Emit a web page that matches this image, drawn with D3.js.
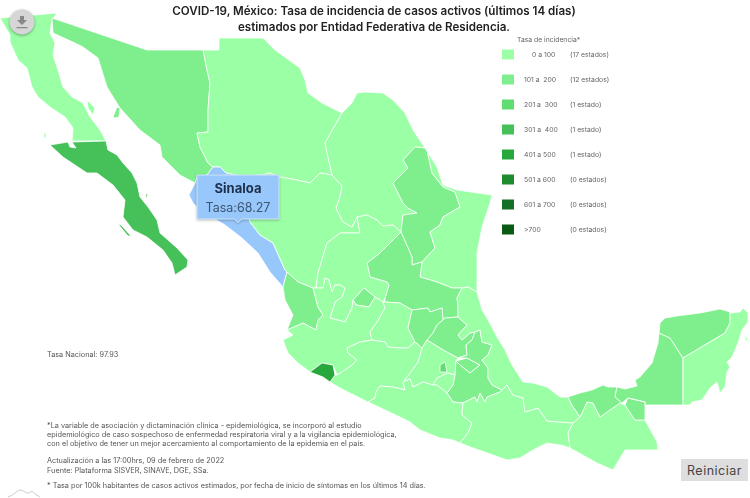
<!DOCTYPE html>
<html lang="es">
<head>
<meta charset="utf-8">
<title>COVID-19, México</title>
<script src="https://cdn.jsdelivr.net/npm/d3@7"></script>
<style>
  html, body { margin: 0; padding: 0; background: #fff; }
  svg { display: block; font-family: Inter, "Open Sans", sans-serif; filter: blur(0.35px); }
</style>
</head>
<body>
<svg id="chart" width="750" height="498"></svg>
<script>
// Rates: only Sinaloa and the national rate are readable, the rest are estimated from each state's colour band
const stateNames = ["Baja California", "Baja California Sur", "Sonora", "Chihuahua", "Sinaloa", "Durango", "Coahuila", "Nuevo León",
  "Tamaulipas", "San Luis Potosí", "Zacatecas", "Aguascalientes", "Nayarit", "Jalisco", "Guanajuato", "Querétaro",
  "Hidalgo", "México", "Ciudad de México", "Tlaxcala", "Puebla", "Morelos", "Michoacán", "Colima",
  "Guerrero", "Oaxaca", "Veracruz", "Chiapas", "Tabasco", "Campeche", "Yucatán", "Quintana Roo"];
const stateRates = [85, 352, 165, 72, 68.27, 60, 78, 148,
  70, 130, 88, 175, 120, 92, 66, 170,
  140, 55, 260, 125, 118, 90, 50, 440,
  75, 45, 40, 15, 135, 110, 150, 95];

const stateRings = [
  [[[0,18],[57,13],[52,20],[50,33],[55,43],[53,55],[58,70],[63,87],[72,97],[83,103],[90,117],[100,130],[106,141],[72,141],[73,128],[65,117],[50,107],[38,97],[32,87],[27,68],[18,60],[10,42],[10,35]],
   [[87,100],[95,108],[93,115],[88,108]], [[44,132],[46,134],[46,138],[44,138]]],
  [[[50,145],[68,142],[70,147],[76,148],[72,142],[106,141],[108,150],[117,155],[123,163],[132,173],[137,183],[140,197],[148,207],[157,220],[160,233],[168,240],[177,248],[188,260],[187,267],[175,275],[172,263],[163,250],[147,237],[133,230],[123,217],[125,200],[113,185],[97,173],[87,173],[72,163],[63,157]],
   [[118,224],[121,225],[131,236],[128,236]], [[146,193],[148,195],[146,198]]],
  [[[52,18],[147,50],[203,50],[207,70],[210,83],[208,110],[208,132],[197,133],[200,147],[208,163],[213,167],[207,175],[197,177],[195,183],[180,175],[162,157],[160,145],[140,130],[120,108],[107,87],[98,58],[83,47],[75,43],[53,33]],
   [[113,117],[117,107],[120,108],[119,117],[115,118]]],
  [[[203,50],[219,50],[219,38],[263,38],[275,50],[300,68],[305,80],[308,93],[322,103],[342,113],[325,143],[332,175],[320,173],[310,183],[297,180],[280,177],[270,173],[262,175],[240,176],[226,173],[220,167],[213,167],[208,163],[200,147],[197,133],[208,132],[208,110],[210,83],[207,70]]],
  [[[195,183],[197,177],[207,175],[213,167],[220,167],[226,173],[240,176],[245,200],[250,222],[260,235],[273,243],[285,270],[287,272],[283,287],[270,272],[258,253],[242,238],[225,225],[200,210],[193,203],[189,195]]],
  [[[240,176],[262,175],[270,173],[280,177],[297,180],[310,183],[320,173],[332,175],[342,186],[340,197],[336,208],[343,222],[352,227],[357,217],[360,233],[340,233],[327,243],[318,273],[316,288],[313,288],[298,282],[287,272],[285,270],[273,243],[260,235],[250,222],[245,200]]],
  [[[342,113],[352,103],[357,93],[365,92],[383,93],[393,100],[405,113],[413,130],[425,148],[415,147],[403,160],[408,168],[393,183],[403,203],[408,208],[417,213],[403,215],[401,232],[393,225],[383,226],[377,220],[367,215],[357,217],[352,227],[343,222],[336,208],[340,197],[342,186],[332,175],[325,143]]],
  [[[415,147],[425,148],[427,150],[432,173],[443,187],[455,192],[460,207],[443,217],[440,225],[430,232],[435,248],[422,262],[412,265],[412,257],[401,232],[403,215],[417,213],[408,208],[403,203],[393,183],[408,168],[403,160]]],
  [[[425,148],[437,167],[443,185],[457,190],[492,195],[490,203],[482,227],[477,253],[477,280],[477,292],[468,287],[462,288],[452,288],[437,282],[420,277],[422,262],[435,248],[430,232],[440,225],[443,217],[460,207],[455,192],[443,187],[432,173],[427,150]]],
  [[[401,232],[412,257],[412,265],[422,262],[420,277],[437,282],[452,288],[462,288],[457,298],[458,307],[458,317],[445,318],[443,320],[442,308],[430,312],[428,308],[412,310],[400,303],[385,302],[385,298],[389,285],[387,282],[370,277],[367,263],[380,253]]],
  [[[316,288],[318,273],[327,243],[340,233],[360,233],[357,217],[367,215],[377,220],[383,226],[393,225],[401,232],[380,253],[367,263],[370,277],[387,282],[389,285],[385,298],[383,302],[375,297],[364,288],[353,300],[352,308],[345,322],[330,318],[335,302],[342,297],[345,288],[340,285],[335,285],[332,292],[329,280],[325,278],[323,288]]],
  [[[353,300],[364,288],[375,297],[369,307],[356,305]]],
  [[[283,287],[287,272],[298,282],[313,288],[318,307],[323,315],[318,320],[316,330],[303,323],[287,330],[293,315],[285,300]]],
  [[[283,340],[293,335],[287,330],[303,323],[316,330],[318,320],[323,315],[318,307],[313,288],[316,288],[323,288],[325,278],[329,280],[332,292],[335,285],[340,285],[345,288],[342,297],[335,302],[330,318],[345,322],[352,308],[353,300],[356,305],[369,307],[375,297],[383,302],[385,308],[377,322],[370,332],[372,340],[360,342],[347,348],[348,353],[357,360],[352,365],[342,372],[337,375],[333,365],[322,363],[310,372],[298,363],[288,353]]],
  [[[383,302],[385,302],[400,303],[412,310],[408,328],[415,342],[408,348],[400,348],[388,347],[385,342],[372,340],[370,332],[377,322],[385,308]]],
  [[[412,310],[428,308],[430,312],[442,308],[443,320],[437,325],[433,333],[427,340],[422,348],[415,342],[408,328]]],
  [[[445,318],[458,317],[467,325],[458,335],[462,340],[470,333],[475,332],[472,340],[466,345],[467,355],[458,358],[443,350],[427,340],[433,333],[437,325],[443,320]]],
  [[[422,348],[427,340],[443,350],[458,358],[456,361],[455,375],[448,373],[437,378],[433,385],[423,382],[413,387],[410,379],[403,382],[410,373],[418,362]]],
  [[[440,365],[445,362],[447,372],[440,372]]],
  [[[456,361],[467,358],[480,365],[470,373],[460,365]]],
  [[[475,332],[480,330],[482,342],[492,345],[488,355],[482,360],[488,368],[488,378],[492,385],[502,390],[500,392],[487,397],[485,402],[480,393],[477,402],[475,397],[463,403],[453,402],[447,393],[453,385],[455,375],[456,361],[460,365],[470,373],[480,365],[467,358],[458,358],[467,355],[466,345],[472,340]]],
  [[[437,378],[448,373],[455,375],[453,385],[447,393],[437,385],[433,385]]],
  [[[347,348],[360,342],[372,340],[385,342],[388,347],[400,348],[408,348],[415,342],[422,348],[418,362],[410,373],[403,382],[405,390],[393,387],[380,386],[376,392],[375,398],[368,402],[350,393],[340,388],[330,382],[335,375],[337,375],[342,372],[352,365],[357,360],[348,353]]],
  [[[310,372],[322,363],[333,365],[335,375],[330,382],[323,377]]],
  [[[368,402],[375,398],[376,392],[380,386],[393,387],[405,390],[403,382],[410,379],[413,387],[423,382],[433,385],[437,385],[447,393],[453,402],[463,403],[462,415],[472,423],[468,433],[460,443],[453,440],[440,438],[420,430],[410,422],[400,417],[385,410]]],
  [[[463,403],[475,397],[477,402],[480,393],[485,402],[487,397],[500,392],[502,390],[507,385],[513,395],[523,398],[525,412],[538,408],[547,421],[573,423],[568,433],[570,448],[561,445],[553,444],[547,443],[533,450],[520,458],[507,460],[493,455],[473,448],[460,443],[468,433],[472,423],[462,415]]],
  [[[462,288],[468,287],[477,292],[482,310],[487,318],[497,337],[505,350],[512,365],[523,382],[533,383],[547,387],[560,397],[568,397],[572,405],[580,417],[573,423],[547,421],[538,408],[525,412],[523,398],[513,395],[507,385],[502,390],[492,385],[488,378],[488,368],[482,360],[488,355],[492,345],[482,342],[480,330],[475,332],[470,333],[462,340],[458,335],[467,325],[458,317],[458,307],[457,298]]],
  [[[573,423],[580,417],[587,402],[593,403],[600,417],[620,403],[625,405],[635,420],[645,420],[657,442],[658,450],[625,450],[613,470],[597,463],[570,448],[568,433]]],
  [[[568,397],[580,393],[592,390],[603,385],[608,387],[617,387],[615,397],[622,403],[620,403],[600,417],[593,403],[587,402],[580,417],[572,405]]],
  [[[659,333],[670,338],[683,358],[683,405],[645,405],[645,402],[628,398],[622,403],[615,397],[617,387],[625,389],[637,386],[635,380],[640,377],[652,363],[658,343]],
   [[628,398],[645,402],[645,420],[635,420],[625,405]]],
  [[[660,323],[665,318],[677,316],[700,313],[720,309],[730,312],[730,323],[725,333],[683,358],[670,338],[659,333]]],
  [[[730,313],[740,312],[743,308],[748,313],[748,322],[742,330],[738,343],[732,357],[727,362],[730,367],[727,372],[725,387],[720,393],[717,382],[710,388],[702,400],[692,402],[690,405],[683,405],[683,358],[725,333],[730,323]],
   [[745,337],[748,338],[746,342]]]
];

const hoveredState = "Sinaloa";
const nationalRate = 97.93;

const bandThresholds = [101, 201, 301, 401, 501, 601, 701];
const bandColors = ["#9bffa6", "#7eef8c", "#60dd70", "#46c058", "#28a83c", "#1e8c2e", "#147024", "#0a5a14"];
const bandLabels = ["0 a 100", "101 a  200", "201 a  300", "301 a  400", "401 a 500", "501 a 600", "601 a 700", ">700"];
const bandCounts = ["(17 estados)", "(12 estados)", "(1 estado)", "(1 estado)", "(1 estado)", "(0 estados)", "(0 estados)", "(0 estados)"];

const titleLines = ["COVID-19, México: Tasa de incidencia de casos activos (últimos 14 días)",
  "estimados por Entidad Federativa de Residencia."];
const noteLines = [
  "*La variable de asociación y dictaminación clínica - epidemiológica, se incorporó al estudio",
  "epidemiológico de caso sospechoso de enfermedad respiratoria viral y a la vigilancia epidemiológica,",
  "con el objetivo de tener un mejor acercamiento al comportamiento de la epidemia en el país."];
const updateLines = ["Actualización a las 17:00hrs, 09 de febrero de 2022", "Fuente: Plataforma SISVER, SINAVE, DGE, SSa."];
const rateNote = "* Tasa por 100k habitantes de casos activos estimados, por fecha de inicio de síntomas en los últimos 14 días.";

const svg = d3.select("#chart");

// the map itself
const features = stateNames.map((name, i) => ({
  type: "Feature",
  properties: { name: name, rate: stateRates[i] },
  geometry: { type: "MultiPolygon", coordinates: stateRings[i].map(ring => [ring.concat([ring[0]])]) }
}));
const projection = d3.geoIdentity().fitExtent([[0, 13], [748, 470]], { type: "FeatureCollection", features: features });
const path = d3.geoPath(projection);
const color = d3.scaleThreshold().domain(bandThresholds).range(bandColors);

svg.append("g").selectAll("path")
  .data(features)
  .enter().append("path")
  .attr("d", path)
  .attr("fill", d => d.properties.name === hoveredState ? "#97c7fb" : color(d.properties.rate))
  .attr("stroke", "#fff")
  .attr("stroke-width", 0.8)
  .attr("stroke-linejoin", "round");

// title
svg.append("g").selectAll("text")
  .data(titleLines)
  .enter().append("text")
  .attr("x", 374)
  .attr("y", (d, i) => 15 + i * 15.5)
  .attr("text-anchor", "middle")
  .attr("font-size", 11.6)
  .attr("font-weight", 600)
  .attr("fill", "#222")
  .text(d => d);

// legend
const legendY = d3.scalePoint().domain(bandLabels).range([54.5, 229.5]);
const legend = svg.append("g");
legend.append("text").attr("x", 517).attr("y", 41.5).attr("font-size", 6.8).attr("fill", "#666").text("Tasa de incidencia*");
const rows = legend.selectAll("g")
  .data(bandLabels)
  .enter().append("g")
  .attr("transform", d => "translate(0," + legendY(d) + ")");
rows.append("rect").attr("x", 502).attr("y", -5).attr("width", 12).attr("height", 10)
  .attr("fill", (d, i) => bandColors[i]);
rows.append("text")
  .attr("x", (d, i) => i === 0 ? 532 : 524)
  .attr("y", 2.5)
  .attr("font-size", 6.8)
  .attr("fill", "#666")
  .attr("xml:space", "preserve")
  .text(d => d);
rows.append("text")
  .attr("x", 570)
  .attr("y", 2.5)
  .attr("font-size", 6.8)
  .attr("fill", "#666")
  .text((d, i) => bandCounts[i]);

// notes at the bottom left
const notes = svg.append("g").attr("font-size", 7.3).attr("fill", "#555");
notes.append("text").attr("x", 47).attr("y", 357).text("Tasa Nacional: " + nationalRate);
notes.selectAll(".note").data(noteLines).enter().append("text").attr("class", "note")
  .attr("x", 47).attr("y", (d, i) => 427.5 + i * 9.2).text(d => d);
notes.selectAll(".update").data(updateLines).enter().append("text").attr("class", "update")
  .attr("x", 47).attr("y", (d, i) => 462.5 + i * 10).text(d => d);
notes.append("text").attr("x", 47).attr("y", 487.5).text(rateNote);

// little mountain logo
svg.append("path")
  .attr("d", "M8,497 C13,496 16,491 20,490 C24,490 26,494 29,493 C31,491 33,491 35,494 L40,497")
  .attr("fill", "none").attr("stroke", "#aaa").attr("stroke-width", 0.6);

// download button
const dl = svg.append("g").attr("transform", "translate(22,22)");
dl.append("circle").attr("r", 12.5).attr("fill", "#d6d6d6").style("filter", "drop-shadow(0 1px 1.5px rgba(0,0,0,.35))");
dl.append("path").attr("d", "M-2,-6 h4 v4 h3 l-5,5 l-5,-5 h3 z M-5.5,5 h11 v1.2 h-11 z").attr("fill", "#888");

// reset button
svg.append("rect").attr("x", 681).attr("y", 459).attr("width", 67).attr("height", 22).attr("fill", "#dedede");
svg.append("text").attr("x", 714.5).attr("y", 474.5).attr("text-anchor", "middle")
  .attr("font-size", 12.5).attr("letter-spacing", 0.5).attr("fill", "#444").text("Reiniciar");

// tooltip of the hovered state
const hovered = features.find(d => d.properties.name === hoveredState);
const tip = svg.append("g").attr("transform", "translate(238,0)");
tip.append("path")
  .attr("d", "M-41,175 H41 V219 H4 L0,222.5 L-4,219 H-41 Z")
  .attr("fill", "#97c7fb")
  .attr("stroke", "#d2e5fb")
  .attr("stroke-width", 1)
  .style("filter", "drop-shadow(0 1px 1px rgba(0,0,0,.25))");
tip.append("text").attr("y", 192.5).attr("text-anchor", "middle")
  .attr("font-size", 13).attr("font-weight", 700).attr("fill", "#1d2f4a").text(hovered.properties.name);
tip.append("text").attr("y", 212).attr("text-anchor", "middle")
  .attr("font-size", 12.5).attr("fill", "#3d5573").text("Tasa:" + hovered.properties.rate);
</script>
</body>
</html>
